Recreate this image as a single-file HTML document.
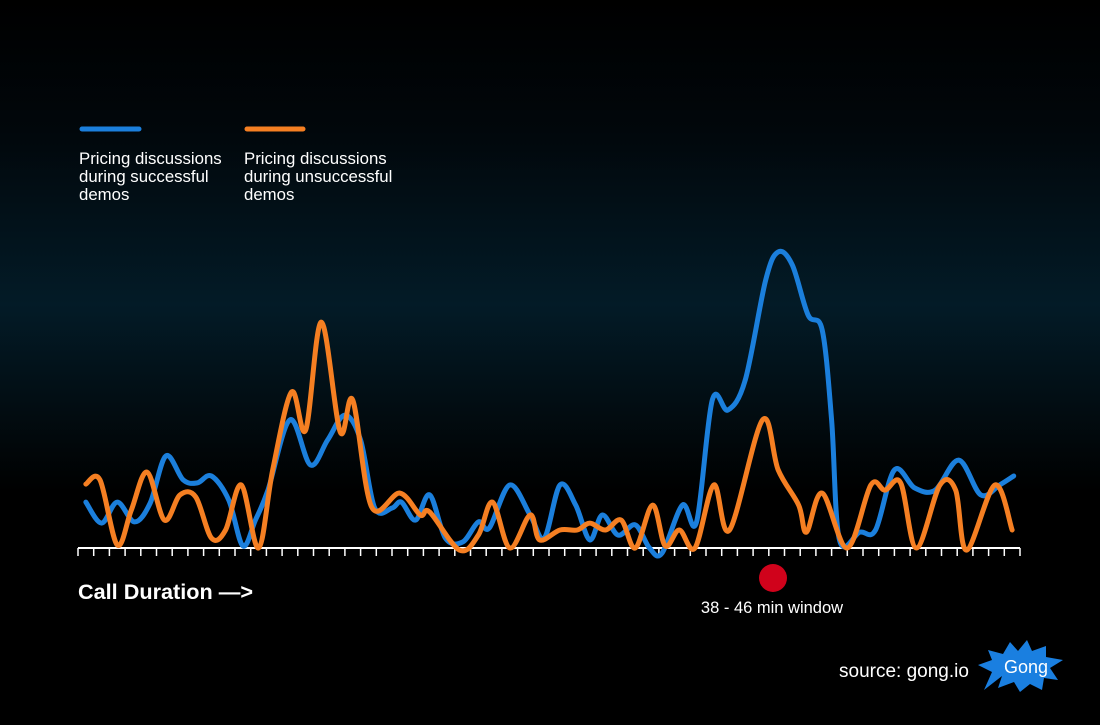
<!DOCTYPE html>
<html><head><meta charset="utf-8"><style>
html,body{margin:0;padding:0;background:#000;}
svg{display:block;font-family:"Liberation Sans",sans-serif;}
</style></head><body>
<svg id="chart" width="1100" height="725" viewBox="0 0 1100 725">
<defs>
<linearGradient id="bg" x1="0" y1="0" x2="0" y2="1">
<stop offset="0" stop-color="#000"/>
<stop offset="0.18" stop-color="#01070b"/>
<stop offset="0.42" stop-color="#031b27"/>
<stop offset="0.55" stop-color="#020e14"/>
<stop offset="0.68" stop-color="#000"/>
<stop offset="1" stop-color="#000"/>
</linearGradient>
</defs>
<rect x="0" y="0" width="1100" height="725" fill="url(#bg)"/>
<g>
<line x1="82" y1="129" x2="139" y2="129" stroke="#1b7fdc" stroke-width="5" stroke-linecap="round"/>
<line x1="247" y1="129" x2="303" y2="129" stroke="#f57f22" stroke-width="5" stroke-linecap="round"/>
<text x="79" y="164" fill="#fff" font-size="16.8"><tspan x="79">Pricing discussions</tspan><tspan x="79" dy="18">during successful</tspan><tspan x="79" dy="18">demos</tspan></text>
<text x="244" y="164" fill="#fff" font-size="16.8"><tspan x="244">Pricing discussions</tspan><tspan x="244" dy="18">during unsuccessful</tspan><tspan x="244" dy="18">demos</tspan></text>
</g>
<g id="axis"></g>
<g id="series"></g>
<text x="78" y="599" fill="#fff" font-size="21" font-weight="bold" textLength="175" lengthAdjust="spacingAndGlyphs">Call Duration —&gt;</text>
<circle cx="773" cy="578" r="14" fill="#d0021b"/>
<text x="772" y="613" fill="#fff" font-size="16.5" text-anchor="middle">38 - 46 min window</text>
<text x="839" y="677" fill="#fff" font-size="19">source: gong.io</text>
<g>
<polygon fill="#1a7fe0" points="988,650 1003,654 1010,642 1018,651 1027,640 1032,651 1046,646 1046,657 1063,660 1050,668 1058,680 1044,678 1042,690 1030,684 1020,692 1014,682 998,688 1002,676 984,690 992,672 978,665 992,660"/>
<text x="1026" y="673" fill="#fff" font-size="18" text-anchor="middle">Gong</text>
</g>
</svg>
<script>
const blueMinutes=[0.5,1.5,2.5,3.6,4.6,5.6,6.7,7.6,8.5,9.6,10.5,11.3,12.1,13.5,14.8,15.9,17.0,18.0,18.9,20.0,20.6,21.5,22.4,23.4,24.5,25.5,26.2,27.5,28.8,29.7,30.7,31.7,32.6,33.4,34.4,35.5,36.4,37.2,38.5,39.4,40.4,41.4,42.5,43.8,44.6,45.5,46.5,47.4,48.0,48.5,49.8,50.8,52.0,53.3,54.6,56.1,57.5,58.7,59.6];
const blueValues=[15.3,8.3,15.3,8.7,15,30.7,22.7,21.7,24,16,0.7,9.3,19.3,42.7,27.7,36,44.3,36,13.3,13.3,15.3,9.3,17.7,3.3,2,8.7,6.7,21,11,3.3,21,14.3,2.7,11,4.3,7.7,0,-1.7,14.3,8.7,49.3,46,56,89.3,98.7,94.3,77.7,72.7,42.7,2.7,5.3,6,26,20,19.3,29.3,17.7,21,24];
const orangeMinutes=[0.5,1.4,2.5,3.4,4.4,5.5,6.5,7.5,8.5,9.4,10.4,11.5,12.4,13.6,14.5,15.5,16.7,17.5,18.7,20.5,21.8,22.4,24.3,25.5,26.4,27.5,28.8,29.4,30.7,31.8,32.6,33.6,34.6,35.5,36.6,37.4,38.3,39.3,40.5,41.5,43.6,44.6,45.9,46.4,47.4,49.0,50.5,51.4,52.4,53.4,54.9,55.9,56.6,58.4,59.5];
const orangeValues=[21.3,22.7,1,12.7,25.3,9.3,17.7,17,3.3,6,21,0,26,52,39.3,75.3,38.7,49.3,13.7,18.3,11,12,-0.7,4.3,15.3,0,11,2.7,6,6,8.3,6,9.3,0,14.3,0.7,6,0,21,6,42.7,26,14.3,5.3,18.3,0,21,19.3,21.7,0,21,19.3,-0.7,21,6];
const tickCount=60;

const NS="http://www.w3.org/2000/svg";
const x0=78,x1=1020,base=548;
function xs(m){return x0+m*(x1-x0)/tickCount;}
function ys(v){return base-v*3;}

const axis=document.getElementById('axis');
const al=document.createElementNS(NS,'line');


al.setAttribute('x1',x0);al.setAttribute('x2',x1);al.setAttribute('y1',base);al.setAttribute('y2',base);
al.setAttribute('stroke','#fff');al.setAttribute('stroke-width','2');
axis.appendChild(al);
for(let i=0;i<=tickCount;i++){
  const t=document.createElementNS(NS,'line');
  
  
  t.setAttribute('x1',xs(i));t.setAttribute('x2',xs(i));t.setAttribute('y1',base);t.setAttribute('y2',base+8);
  t.setAttribute('stroke','#fff');t.setAttribute('stroke-width','1.5');
  axis.appendChild(t);
}
function pathFor(ms,vs){
  const p=ms.map((m,i)=>[xs(m),ys(vs[i])]);
  let d='M'+p[0][0]+','+p[0][1];
  for(let i=0;i<p.length-1;i++){
    const a=p[i-1]||p[i],b=p[i],c=p[i+1],e=p[i+2]||c;
    const c1x=b[0]+(c[0]-a[0])/6,c1y=b[1]+(c[1]-a[1])/6;
    const c2x=c[0]-(e[0]-b[0])/6,c2y=c[1]-(e[1]-b[1])/6;
    d+=' C'+c1x+','+c1y+' '+c2x+','+c2y+' '+c[0]+','+c[1];
  }
  return d;
}
const sg=document.getElementById('series');
const pb=document.createElementNS(NS,'path');


pb.setAttribute('d',pathFor(blueMinutes,blueValues));
pb.setAttribute('fill','none');pb.setAttribute('stroke','#1b7fdc');pb.setAttribute('stroke-width','5');pb.setAttribute('stroke-linejoin','round');pb.setAttribute('stroke-linecap','round');
sg.appendChild(pb);
const po=document.createElementNS(NS,'path');


po.setAttribute('d',pathFor(orangeMinutes,orangeValues));
po.setAttribute('fill','none');po.setAttribute('stroke','#f57f22');po.setAttribute('stroke-width','5');po.setAttribute('stroke-linejoin','round');po.setAttribute('stroke-linecap','round');
sg.appendChild(po);
</script>
</body></html>
